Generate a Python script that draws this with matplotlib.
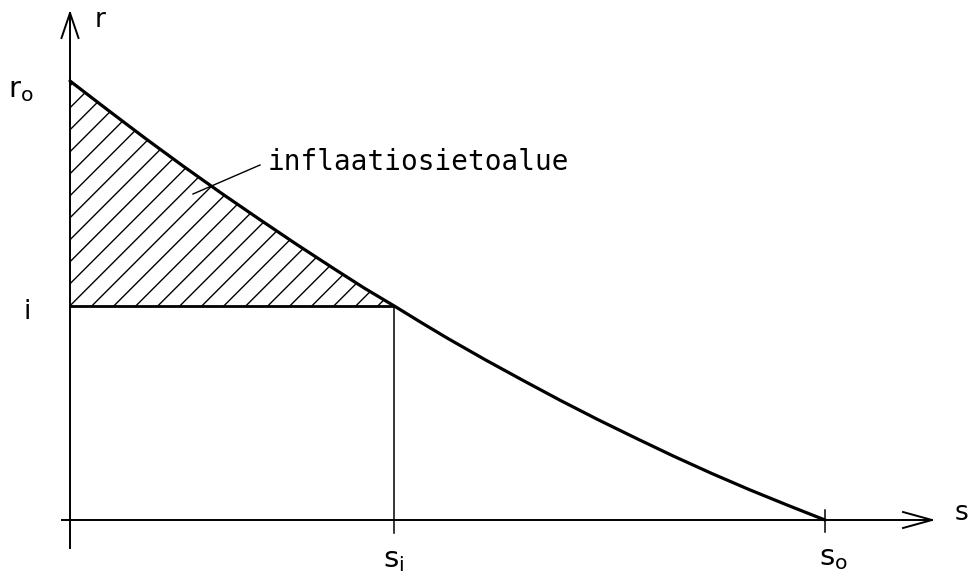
import matplotlib
matplotlib.use("Agg")
import matplotlib.pyplot as plt
from matplotlib.patches import Polygon

# kysyntäkäyrä r(s), luettu kuvasta (s_o = 1, r_o = 1)
s_curve = [0.0, 0.05, 0.10, 0.15, 0.20, 0.25, 0.30, 0.35, 0.39, 0.429, 0.465, 0.50,
           0.55, 0.60, 0.65, 0.70, 0.75, 0.80, 0.85, 0.90, 0.95, 1.0]
r_curve = [1.0, 0.934, 0.869, 0.806, 0.745, 0.686, 0.628, 0.572, 0.528, 0.488, 0.450, 0.414,
           0.365, 0.318, 0.272, 0.228, 0.186, 0.145, 0.106, 0.069, 0.034, 0.0]
s_i = 0.429
i_level = 0.488
label_area = "inflaatiosietoalue"

# pikselit -> data
px_x = 1 / 755
px_y = 1 / 439

fig = plt.figure(figsize=(9.68, 5.73), dpi=100)
ax = fig.add_axes([0, 0, 1, 1])
ax.set_xlim(-70 * px_x, 898 * px_x)
ax.set_ylim(-53 * px_y, 520 * px_y)
ax.axis("off")

k = "black"
# akselit
ax.plot([0, 0], [-28 * px_y, 507 * px_y], c=k, lw=1.4)
ax.plot([-8 * px_x, 862 * px_x], [0, 0], c=k, lw=1.4)
# nuolenkärjet
ty = 507 * px_y
ax.plot([-8.5 * px_x, 0, 8.5 * px_x], [ty - 25 * px_y, ty, ty - 25 * px_y], c=k, lw=1.4)
tx = 862 * px_x
ax.plot([tx - 29 * px_x, tx, tx - 29 * px_x], [8 * px_y, 0, -8 * px_y], c=k, lw=1.4)

# käyrä
ax.plot(s_curve, r_curve, c=k, lw=2.3, solid_capstyle="round", solid_joinstyle="round")
# i-taso ja s_i
ax.plot([0, s_i], [i_level, i_level], c=k, lw=2.0)
ax.plot([s_i, s_i], [-13 * px_y, i_level], c=k, lw=1.1)
ax.plot([1, 1], [-12 * px_y, 10 * px_y], c=k, lw=1.1)

# viivoitettu alue
n = s_curve.index(s_i)
poly_pts = list(zip(s_curve[:n + 1], r_curve[:n + 1])) + [(0, i_level)]
area = Polygon(poly_pts, closed=True, fill=False, lw=0)
ax.add_patch(area)
c0 = -i_level / px_y * px_x
for kk in range(-16, 20):
    c = c0 + kk * 22 * px_x
    ys = [0.3, 1.2]
    xs = [c + y / px_y * px_x for y in ys]
    ln, = ax.plot(xs, ys, c=k, lw=1.0)
    ln.set_clip_path(area)

# nimiöviiva
ax.plot([(193 - 70) * px_x, (260 - 70) * px_x], [(520 - 194) * px_y, (520 - 165) * px_y], c=k, lw=1.0)

fs = 19
ax.text((268 - 70) * px_x, (520 - 162) * px_y, label_area, fontsize=20,
        family="DejaVu Sans Mono", va="center", ha="left")
ax.text(25 * px_x, (520 - 20) * px_y, "r", fontsize=fs, va="center", ha="left")
ax.text(-62 * px_x, (520 - 90) * px_y, r"$\mathregular{r_o}$", fontsize=fs + 2, va="center", ha="left")
ax.text(-47 * px_x, (520 - 312) * px_y, "i", fontsize=fs, va="center", ha="left")
ax.text(s_i, (520 - 560) * px_y, r"$\mathregular{s_i}$", fontsize=fs + 2, va="center", ha="center")
ax.text(1 + 8 * px_x, (520 - 558) * px_y, r"$\mathregular{s_o}$", fontsize=fs + 2, va="center", ha="center")
ax.text((955 - 70) * px_x, (520 - 513) * px_y, "s", fontsize=fs, va="center", ha="left")

fig.savefig("out.png", dpi=100)
